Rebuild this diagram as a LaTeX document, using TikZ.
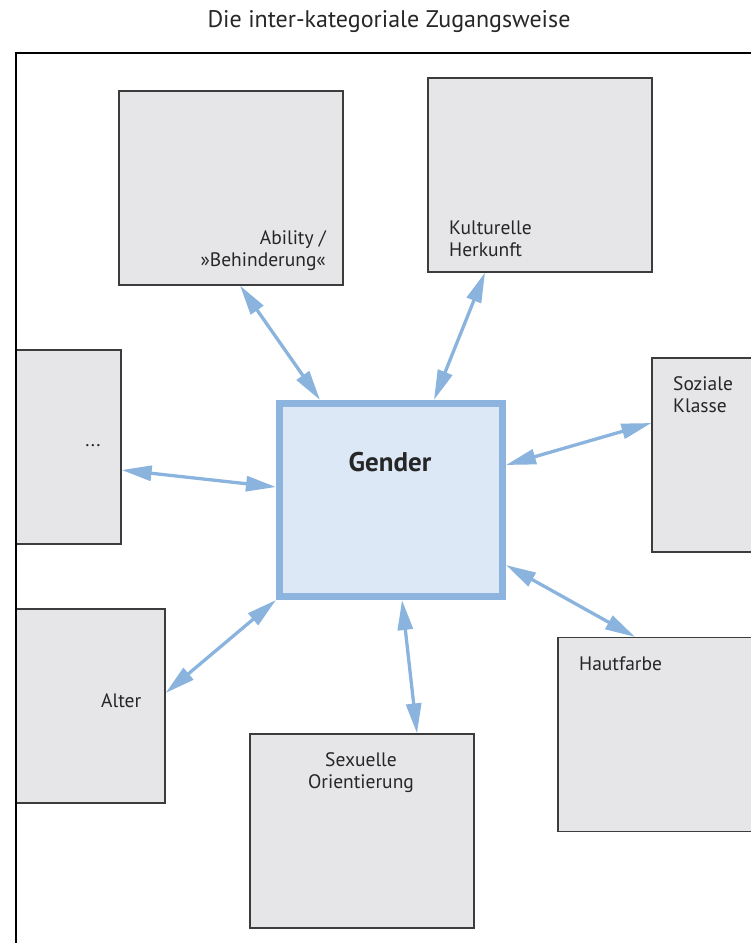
\documentclass[tikz,border=0pt]{standalone}
\usepackage{fontspec}
\setmainfont{PT Sans}
\usetikzlibrary{arrows.meta}

\definecolor{boxfill}{HTML}{E6E6E8}
\definecolor{boxline}{HTML}{3C3C3C}
\definecolor{genderfill}{HTML}{DCE8F5}
\definecolor{genderline}{HTML}{8CB4DE}
\definecolor{arrowblue}{HTML}{8AB4DE}
\definecolor{textgray}{HTML}{262626}

\begin{document}
\begin{tikzpicture}[x=1pt, y=-1pt,
        box/.style={draw=boxline, fill=boxfill, line width=1.2pt,
            minimum width=224pt, minimum height=194pt, inner sep=0pt},
        core/.style={draw=genderline, fill=genderfill, line width=7pt,
            minimum width=223pt, minimum height=193pt, inner sep=0pt},
        lbl/.style={font=\fontsize{19.5}{21.5}\selectfont, text=textgray, inner sep=0pt},
        link/.style={{Triangle[length=30pt,width=15pt]}-{Triangle[length=30pt,width=15pt]},
            draw=arrowblue, line width=3.3pt}]
        \useasboundingbox (0,0) rectangle (751,943);

        \node (title) [lbl, font=\fontsize{24}{27}\selectfont, anchor=base] at (389,27)
            {Die inter-kategoriale Zugangsweise};

        \begin{scope}
            \clip (16,53) rectangle (751,943);
            \node (ability) [box] at (231,188) {};
            \node (kultur) [box] at (540,175) {};
            \node (sozial) [box] at (764,455) {};
            \node (rest) [box] at (9,447) {};
            \node (alter) [box] at (53,706) {};
            \node (sexuell) [box] at (362,831) {};
            \node (haut) [box] at (670,734.5) {};
        \end{scope}

        \draw [line width=1.1pt] (16,943) -- (16,53) -- (751,53);

        \node (gender) [core] at (391,500) {};

        \node (ability text) [lbl, align=right, anchor=base east] at (326,266)
            {Ability /\\»Behinderung«};
        \node (kultur text) [lbl, align=left, anchor=base west] at (449,256)
            {Kulturelle\\Herkunft};
        \node (sozial text) [lbl, align=left, anchor=base west] at (673,412)
            {Soziale\\Klasse};
        \node (rest text) [lbl] at (93,446) {...};
        \node (alter text) [lbl, anchor=base west] at (101,707) {Alter};
        \node (sexuell text) [lbl, align=center, anchor=base] at (361,788)
            {Sexuelle\\Orientierung};
        \node (haut text) [lbl, anchor=base west] at (579,670) {Hautfarbe};
        \node (gender text) [lbl, font=\fontsize{27}{30}\selectfont\bfseries, anchor=base]
            at (390,471) {Gender};

        \draw [link] ([xshift=9pt]ability.south) -- ([xshift=-71pt]gender.north);
        \draw [link] ([xshift=-55pt]kultur.south) -- ([xshift=43pt]gender.north);
        \draw [link] ([yshift=32pt]sozial.west) -- ([yshift=35pt]gender.east);
        \draw [link] ([yshift=-23pt]rest.east) -- ([yshift=13pt]gender.west);
        \draw [link] ([yshift=13pt]alter.east) -- (gender.south west);
        \draw [link] ([xshift=55pt]sexuell.north) -- ([xshift=11pt]gender.south);
        \draw [link] ([xshift=-35pt]haut.north) -- ([yshift=-65pt]gender.east);
    \end{tikzpicture}
\end{document}
